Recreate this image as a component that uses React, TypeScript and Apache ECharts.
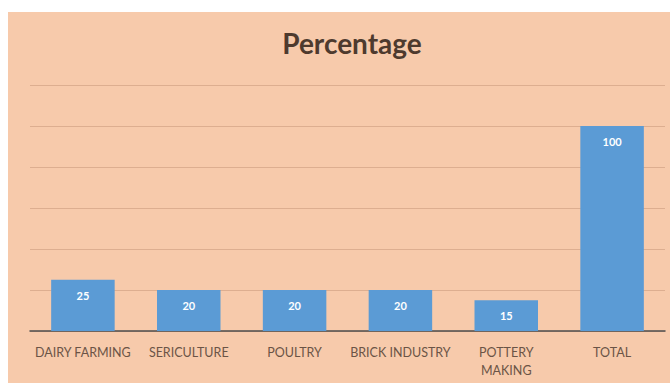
import React, { useEffect, useRef } from "react";
import * as echarts from "echarts";

const categories = ["DAIRY FARMING", "SERICULTURE", "POULTRY", "BRICK INDUSTRY", "POTTERY\nMAKING", "TOTAL"];
const percentages = [25, 20, 20, 20, 15, 100];
const yTicks = { min: 0, max: 120, interval: 20 };

export default function App() {
  const ref = useRef<HTMLDivElement>(null);
  useEffect(() => {
    const chart = echarts.init(ref.current!, null, { renderer: "svg" });
    chart.setOption({
      animation: false,
      backgroundColor: "#ffffff",
      graphic: [
        {
          type: "rect",
          z: -10,
          silent: true,
          shape: { x: 8, y: 12, width: 662, height: 371 },
          style: { fill: "#F7CAAB" },
        },
      ],
      title: {
        text: "Percentage",
        left: 347,
        top: 24,
        textAlign: "center",
        textStyle: { fontFamily: "Lato", fontSize: 28, fontWeight: "bold", color: "#4E3A2E" },
      },
      grid: { left: 30, right: 5, top: 85, bottom: 52 },
      xAxis: {
        type: "category",
        data: categories,
        axisLine: { lineStyle: { color: "#4d4d4d", width: 1.5 } },
        axisTick: { show: false },
        axisLabel: {
          interval: 0,
          margin: 12,
          fontFamily: "Lato",
          fontSize: 12.5,
          color: "#6B5446",
          lineHeight: 18,
        },
      },
      yAxis: {
        type: "value",
        min: yTicks.min,
        max: yTicks.max,
        interval: yTicks.interval,
        axisLabel: { show: false },
        axisLine: { show: false },
        axisTick: { show: false },
        splitLine: { lineStyle: { color: "#DDAE90", width: 1 } },
      },
      series: [
        {
          type: "bar",
          data: percentages,
          barWidth: "60%",
          itemStyle: { color: "#5B9BD5" },
          label: {
            show: true,
            position: "insideTop",
            distance: 10,
            color: "#ffffff",
            fontFamily: "Lato",
            fontWeight: "bold",
            fontSize: 11,
          },
        },
      ],
    });
    return () => chart.dispose();
  }, []);
  return (
    <div
      ref={ref}
      style={{ position: "fixed", left: 0, top: 0, width: 670, height: 383 }}
    />
  );
}
